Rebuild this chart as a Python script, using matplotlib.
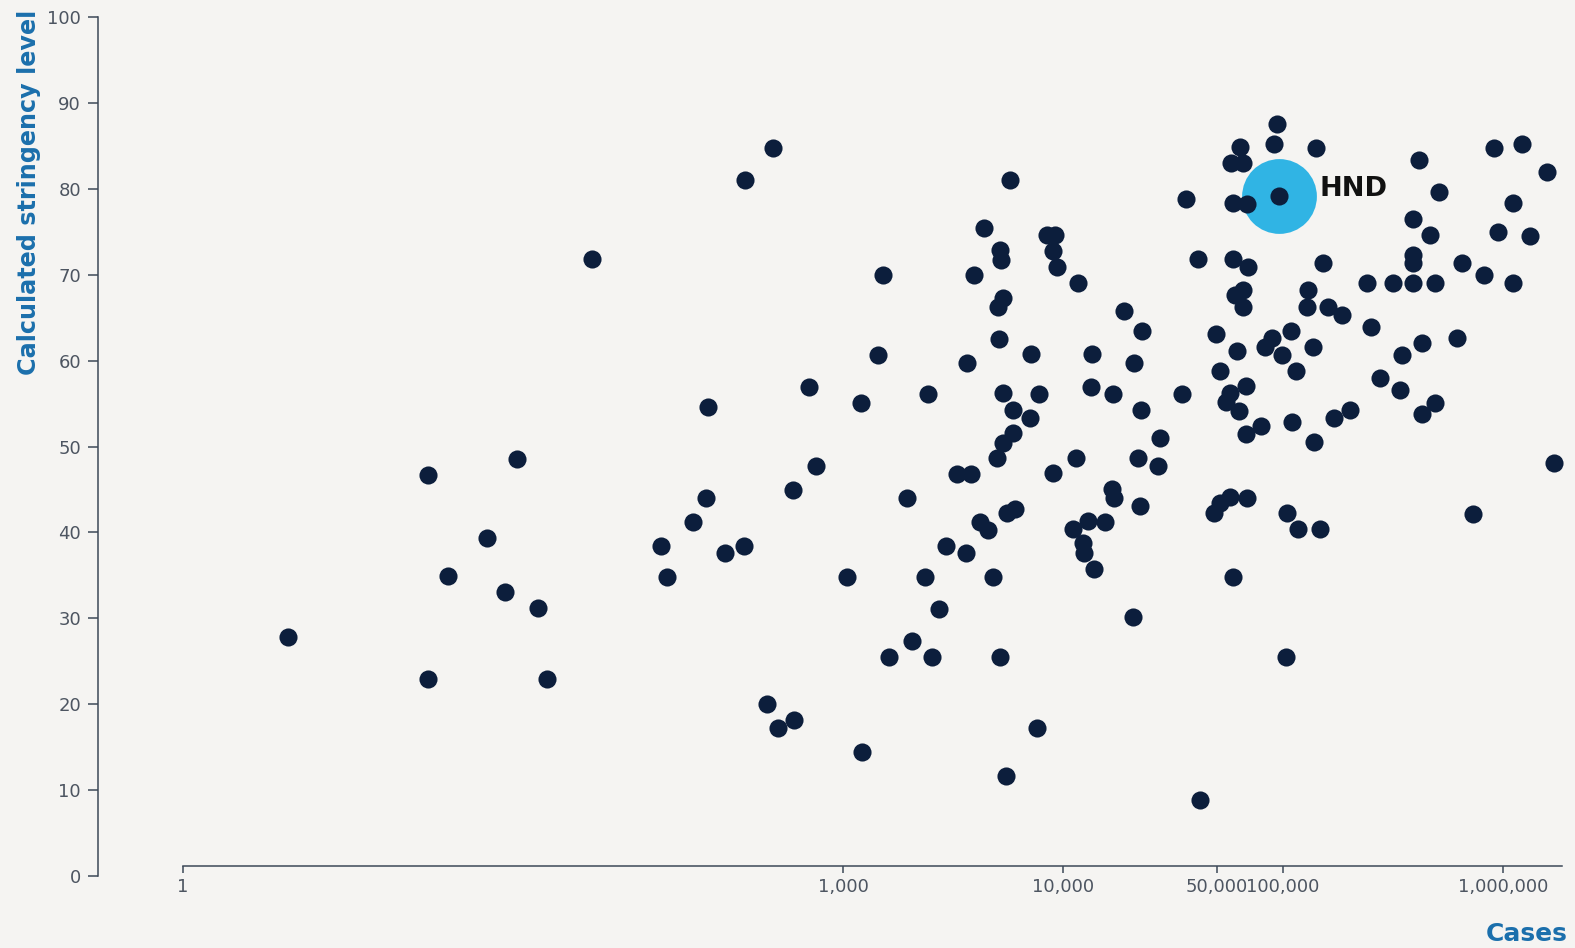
import matplotlib
matplotlib.use("Agg")
import matplotlib.pyplot as plt
import matplotlib.ticker as mticker

# cases (log axis) and calculated stringency level, one entry per country
cases = [
    3, 13, 13, 16, 24, 29, 33, 41, 45, 72,
    149, 158, 208, 238, 243, 291, 359, 355, 452, 481,
    507, 593, 598, 700, 754, 1043, 1208, 1220, 1443, 1520,
    1618, 1954, 2060, 2359, 2433, 2540, 2730, 2940, 3297, 3623,
    3664, 3819, 3940, 4198, 4375, 4560, 4808, 5012, 5050, 5117,
    5174, 5228, 5336, 5340, 5345, 5170, 5562, 5508, 5741, 5929,
    5935, 6053, 7079, 7158, 7621, 7780, 8453, 9200, 9010, 9015,
    9394, 11460, 11700, 11100, 12330, 12450, 13000, 13550, 13400, 13830,
    15520, 16700, 17060, 16870, 18930, 20800, 21030, 21930, 22390, 22630,
    22860, 27030, 27600, 34750, 36240, 41100, 41970, 48560, 49590, 51760,
    51800, 55080, 57410, 57450, 58030, 59290, 59300, 59250, 60530, 61800,
    63100, 63800, 65800, 65850, 65750, 67900, 67950, 68600, 69300, 68650,
    79430, 82800, 89100, 91000, 93950, 98900, 103200, 104200, 108700, 109900,
    114500, 117000, 130000, 128500, 136900, 138300, 141300, 147300, 152000, 160300,
    170600, 185400, 201700, 241000, 251200, 276100, 316200, 340400, 347500, 389900,
    390500, 389000, 390200, 415000, 428400, 428000, 465600, 491000, 490500, 511800,
    618000, 651600, 730800, 819600, 910000, 948500, 1110000, 1112000, 1220000, 1327000,
    1585000, 1706000,
]
stringency = [
    27.8, 46.7, 22.9, 34.9, 39.3, 33.1, 48.5, 31.2, 22.9, 71.8,
    38.4, 34.8, 41.2, 44.0, 54.6, 37.6, 81.0, 38.4, 20.0, 84.7,
    17.2, 44.9, 18.2, 56.9, 47.7, 34.8, 55.1, 14.4, 60.7, 70.0,
    25.5, 44.0, 27.4, 34.8, 56.1, 25.5, 31.1, 38.4, 46.8, 37.6,
    59.7, 46.8, 70.0, 41.2, 75.4, 40.3, 34.8, 48.7, 66.2, 62.5,
    72.9, 71.7, 67.3, 56.2, 50.4, 25.5, 42.3, 11.6, 81.0, 51.6,
    54.2, 42.7, 53.3, 60.8, 17.2, 56.1, 74.6, 74.6, 72.8, 46.9,
    70.9, 48.7, 69.0, 40.4, 38.8, 37.6, 41.3, 60.8, 56.9, 35.7,
    41.2, 45.1, 44.0, 56.1, 65.8, 30.2, 59.7, 48.7, 43.1, 54.2,
    63.4, 47.7, 51.0, 56.1, 78.8, 71.8, 8.8, 42.3, 63.1, 58.8,
    43.4, 55.2, 56.2, 44.1, 83.0, 71.8, 78.3, 34.8, 67.6, 61.1,
    54.1, 84.9, 83.0, 68.2, 66.2, 57.0, 51.5, 78.2, 70.9, 44.0,
    52.4, 61.6, 62.6, 85.2, 87.5, 60.7, 25.5, 42.3, 63.4, 52.9,
    58.8, 40.4, 68.2, 66.2, 61.6, 50.5, 84.7, 40.4, 71.4, 66.2,
    53.3, 65.3, 54.2, 69.0, 63.9, 58.0, 69.0, 56.6, 60.7, 76.5,
    72.3, 71.4, 69.0, 83.4, 53.8, 62.0, 74.6, 69.0, 55.1, 79.6,
    62.6, 71.4, 42.1, 70.0, 84.7, 75.0, 69.0, 78.3, 85.2, 74.5,
    82.0, 48.1,
]

# highlighted country
hnd_label = "HND"
hnd_cases = 95900
hnd_stringency = 79.2

xticks = [1, 1000, 10000, 50000, 100000, 1000000]
xtick_labels = ["1", "1,000", "10,000", "50,000", "100,000", "1,000,000"]
yticks = list(range(0, 101, 10))

bg = "#f5f4f2"
dot = "#0c1e3c"
halo = "#30b4e4"
axis_col = "#3c4858"
tick_text = "#4d5561"
title_col = "#1b6fac"

W, H = 1575, 948
fig = plt.figure(figsize=(W / 100, H / 100), dpi=100, facecolor=bg)
ax = fig.add_axes([98 / W, 1 - 876 / H, (1562 - 98) / W, (876 - 17) / H])
ax.set_facecolor(bg)

ax.set_xscale("log")
ax.set_xlim(10 ** (-85 / 220), 10 ** (1379 / 220))
ax.set_ylim(0, 100)

ax.scatter([hnd_cases], [hnd_stringency], s=2900, color=halo, linewidths=0, zorder=2)
ax.scatter(cases, stringency, s=170, color=dot, linewidths=0, zorder=3, clip_on=False)
ax.scatter([hnd_cases], [hnd_stringency], s=170, color=dot, linewidths=0, zorder=3)
ax.annotate(hnd_label, (hnd_cases, hnd_stringency), xytext=(29, 0),
            textcoords="offset points", ha="left", va="baseline",
            fontsize=19.5, fontweight="bold", color="#111111", zorder=4)

for side in ("top", "right"):
    ax.spines[side].set_visible(False)
for side in ("left", "bottom"):
    ax.spines[side].set_color(axis_col)
    ax.spines[side].set_linewidth(1.1)
ax.spines["bottom"].set_position(("outward", -7.2))
ax.spines["bottom"].set_bounds(1, ax.get_xlim()[1])

ax.set_xticks(xticks)
ax.set_xticklabels(xtick_labels)
ax.xaxis.set_minor_locator(mticker.NullLocator())
ax.set_yticks(yticks)

ax.tick_params(axis="x", length=5, width=1.1, color=axis_col, pad=4,
               labelsize=13, labelcolor=tick_text)
ax.tick_params(axis="y", length=7.2, width=1.1, color=axis_col, pad=5,
               labelsize=13, labelcolor=tick_text)

fig.text(28.7 / W, 1 - 10 / H, "Calculated stringency level", rotation=90,
         ha="center", va="top", fontsize=17.2, fontweight="bold", color=title_col)
fig.text(1568 / W, 1 - 941 / H, "Cases", ha="right", va="baseline",
         fontsize=18, fontweight="bold", color=title_col)

fig.savefig("out.png", dpi=100, facecolor=bg)
